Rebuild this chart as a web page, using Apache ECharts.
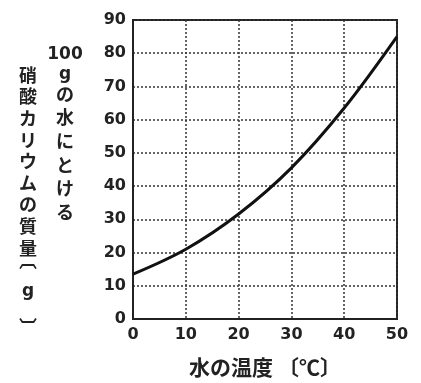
<!DOCTYPE html>
<html>
<head>
<meta charset="utf-8">
<script src="https://cdn.jsdelivr.net/npm/echarts@6/dist/echarts.min.js"></script>
<style>
  html, body { margin: 0; padding: 0; background: #fff; }
  #chart { width: 421px; height: 383px; }
</style>
</head>
<body>
<div id="chart"></div>
<script>
// 水の温度〔℃〕
const temps = [0, 10, 20, 30, 40, 50]
// 100gの水にとける硝酸カリウムの質量〔g〕
const masses = [13.5, 21, 31.6, 45.5, 63.5, 85]
const yTicks = [0, 10, 20, 30, 40, 50, 60, 70, 80, 90]

const xName = '水の温度 〔℃〕'
const yNameTop = ['100', 'g']
const yNameRight = ['の', '水', 'に', 'と', 'け', 'る']
const yNameLeft = ['硝', '酸', 'カ', 'リ', 'ウ', 'ム', 'の', '質', '量']
const yUnit = ['︹', 'g', '︺']

const myChart = echarts.init(document.getElementById('chart'))

const tickFont = {
  color: '#222',
  fontSize: 16,
  fontWeight: 'bold',
  fontFamily: 'DejaVu Sans'
}
const dotted = {
  color: '#333',
  width: 1.5,
  type: [2, 2]
}
const nameFont = {
  fill: '#222',
  fontSize: 18,
  fontWeight: 'bold',
  fontFamily: 'Noto Sans CJK JP',
  align: 'center',
  verticalAlign: 'middle'
}

// one graphic text per character of the vertical axis title
const colText = (chars, x, y0, step) => chars.map((c, i) => ({
  type: 'text',
  x: x,
  y: y0 + i * step,
  style: Object.assign({ text: c }, nameFont)
}))
const oneText = (c, x, y, extra) => ({
  type: 'text',
  x: x,
  y: y,
  style: Object.assign({ text: c }, nameFont, extra || {})
})

const option = {
  animation: false,
  grid: {
    left: 133,
    top: 20,
    width: 264,
    height: 302,
    show: true,
    borderColor: '#222',
    borderWidth: 2
  },
  xAxis: {
    type: 'value',
    min: 0,
    max: 50,
    interval: 10,
    axisLine: { show: true, lineStyle: { color: '#222', width: 2 } },
    axisTick: { show: false },
    axisLabel: Object.assign({ margin: 8 }, tickFont),
    splitLine: { show: true, lineStyle: dotted },
    name: xName,
    nameLocation: 'middle',
    nameGap: 38,
    nameTextStyle: {
      color: '#222',
      fontSize: 21,
      fontWeight: 'bold',
      fontFamily: 'Noto Sans CJK JP'
    }
  },
  yAxis: {
    type: 'value',
    min: yTicks[0],
    max: yTicks[yTicks.length - 1],
    interval: 10,
    axisLine: { show: true, lineStyle: { color: '#222', width: 2 } },
    axisTick: { show: false },
    axisLabel: Object.assign({ margin: 7 }, tickFont),
    splitLine: { show: true, lineStyle: dotted }
  },
  graphic: [
    oneText(yNameTop[0], 65, 55, { fontFamily: 'DejaVu Sans', fontSize: 17 }),
    oneText(yNameTop[1], 65, 75, { fontFamily: 'DejaVu Sans', fontSize: 17 })
  ]
    .concat(colText(yNameRight, 65, 94, 23.6))
    .concat(colText(yNameLeft, 28, 75, 21.6))
    .concat([
      oneText(yUnit[0], 28, 260),
      oneText(yUnit[1], 28, 292, { fontFamily: 'DejaVu Sans', fontSize: 17 }),
      oneText(yUnit[2], 28, 327)
    ]),
  series: [
    {
      type: 'line',
      data: temps.map((t, i) => [t, masses[i]]),
      smooth: 0.35,
      showSymbol: false,
      lineStyle: { color: '#111', width: 3 }
    }
  ]
}

myChart.setOption(option)
</script>
</body>
</html>
